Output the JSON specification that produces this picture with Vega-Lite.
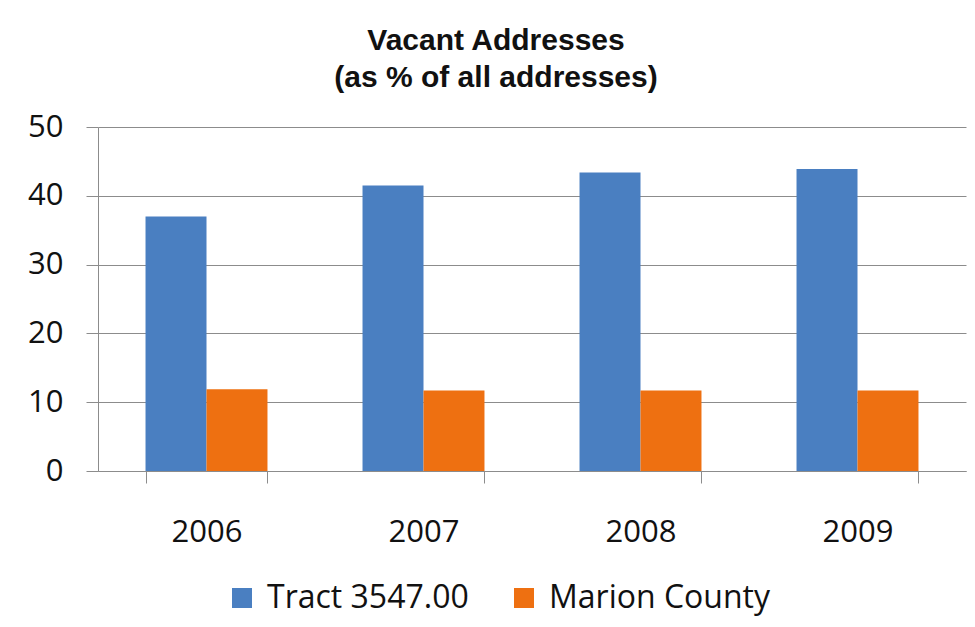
{
  "$schema": "https://vega.github.io/schema/vega-lite/v6.json",
  "width": 868,
  "height": 344,
  "autosize": {"type": "none"},
  "padding": {"left": 98, "top": 127, "right": 9, "bottom": 156},
  "background": "white",
  "title": {
    "text": ["Vacant Addresses", "(as % of all addresses)"],
    "font": "Liberation Sans",
    "fontSize": 30,
    "fontWeight": "bold",
    "color": "#111111",
    "lineHeight": 37,
    "anchor": "middle",
    "dx": -36,
    "offset": 18
  },
  "data": {
    "values": [
      {"year": "2006", "series": "Tract 3547.00", "value": 37.0},
      {"year": "2006", "series": "Marion County", "value": 11.9},
      {"year": "2007", "series": "Tract 3547.00", "value": 41.5},
      {"year": "2007", "series": "Marion County", "value": 11.7},
      {"year": "2008", "series": "Tract 3547.00", "value": 43.4},
      {"year": "2008", "series": "Marion County", "value": 11.7},
      {"year": "2009", "series": "Tract 3547.00", "value": 43.9},
      {"year": "2009", "series": "Marion County", "value": 11.7}
    ]
  },
  "mark": {"type": "bar"},
  "encoding": {
    "x": {
      "field": "year",
      "type": "nominal",
      "scale": {"paddingInner": 0.438, "paddingOuter": 0.219},
      "axis": {
        "title": null,
        "labelAngle": 0,
        "tickBand": "extent",
        "tickSize": 12,
        "tickColor": "#8c8c8c",
        "domainColor": "#8c8c8c",
        "labelFont": "Open Sans",
        "labelFontSize": 31,
        "labelColor": "#111111",
        "labelPadding": 34,
        "grid": false
      }
    },
    "xOffset": {
      "field": "series",
      "type": "nominal",
      "sort": ["Tract 3547.00", "Marion County"],
      "scale": {"paddingInner": 0, "paddingOuter": 0}
    },
    "y": {
      "field": "value",
      "type": "quantitative",
      "scale": {"domain": [0, 50], "nice": false},
      "axis": {
        "title": null,
        "values": [0, 10, 20, 30, 40, 50],
        "tickSize": 12,
        "tickColor": "#8c8c8c",
        "domainColor": "#8c8c8c",
        "gridColor": "#8c8c8c",
        "labelFont": "Open Sans",
        "labelFontSize": 31,
        "labelColor": "#111111",
        "labelPadding": 23
      }
    },
    "color": {
      "field": "series",
      "type": "nominal",
      "scale": {"domain": ["Tract 3547.00", "Marion County"], "range": ["#4a7fc1", "#ee7011"]},
      "legend": {
        "title": null,
        "orient": "none",
        "direction": "horizontal",
        "legendX": 128,
        "legendY": 455,
        "symbolType": "square",
        "symbolSize": 400,
        "symbolStrokeWidth": 0,
        "labelFont": "Open Sans",
        "labelFontSize": 32,
        "labelColor": "#111111",
        "labelOffset": 9,
        "columnPadding": 39,
        "labelLimit": 400
      }
    }
  },
  "config": {
    "view": {"stroke": null},
    "axis": {"domainWidth": 1, "tickWidth": 1, "gridWidth": 1}
  }
}
